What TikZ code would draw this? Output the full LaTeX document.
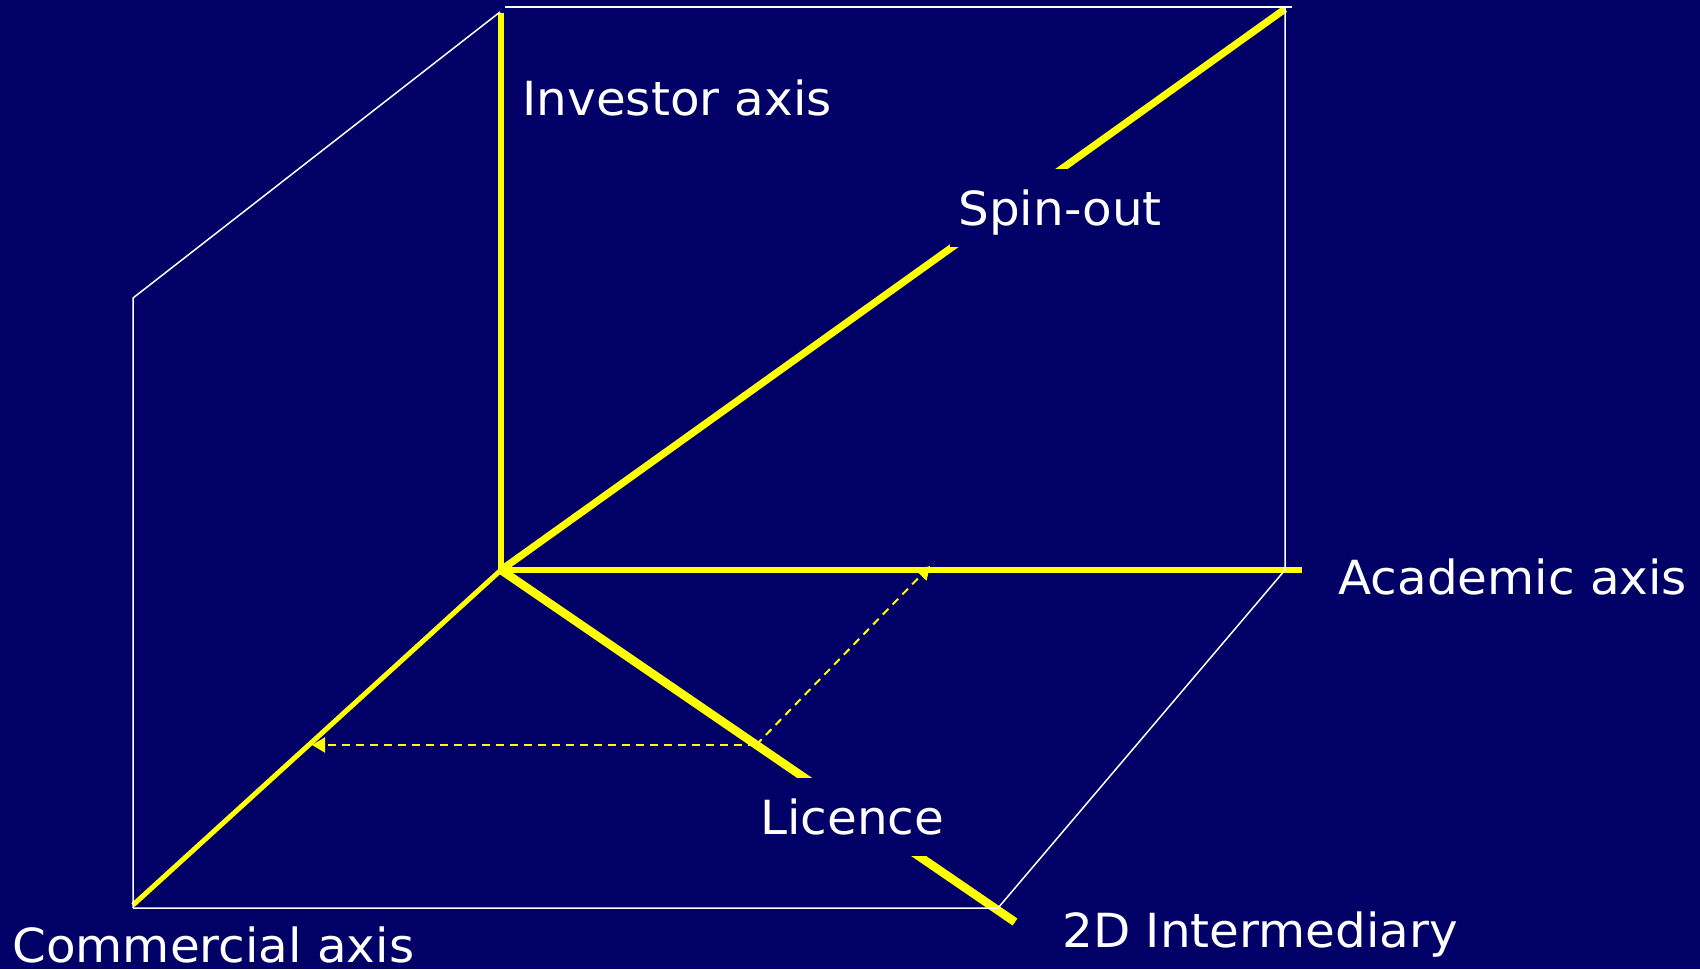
\documentclass[tikz,border=0pt]{standalone}
\usepackage{fontspec}
\setmainfont[FakeStretch=1.03]{DejaVu Sans}
\usetikzlibrary{arrows.meta}
\definecolor{slidebg}{RGB}{0,0,102}
\definecolor{axisyellow}{RGB}{255,255,0}
\begin{document}
\begin{tikzpicture}[x=0.5pt,y=-0.5pt,
  frame/.style={draw=white,line width=0.75pt},
  axisline/.style={draw=axisyellow,line cap=butt},
  guide/.style={draw=axisyellow,line width=1pt,dash pattern=on 4pt off 3pt,
                -{Triangle[length=6.5pt,width=7.5pt]}},
  lbl/.style={text=white,font=\fontsize{23.5pt}{28pt}\selectfont,
              inner sep=0pt,anchor=base west},
  gaplbl/.style={lbl,fill=slidebg,inner xsep=4pt,inner ysep=0pt,
                 text height=28pt,text depth=11pt}]

% page and background
\fill[slidebg] (0,0) rectangle (1700,969);
\useasboundingbox (0,0) rectangle (1700,969);

% origin and axis ends
\coordinate (O) at (501,570);
\coordinate (inv) at (501,13);
\coordinate (acad) at (1302,570);
\coordinate (spin) at (1285,9);
\coordinate (comm) at (133,905);
\coordinate (inter) at (1015,922);

% box corners
\coordinate (f1) at (133,298);
\coordinate (f2) at (500,12);
\coordinate (f3) at (505,7);
\coordinate (f4) at (1292,7);
\coordinate (f5) at (1285,7);
\coordinate (f6) at (1285,570);
\coordinate (f7) at (998,908);
\coordinate (f8) at (133,908);

% guide points
\coordinate (P) at (756,745);
\coordinate (Q) at (312,745);
\coordinate (R) at (930,566);

% yellow axes
\draw[axisline,line width=2.75pt] (O) -- (inv);
\draw[axisline,line width=3pt] (O) -- (acad);
\draw[axisline,line width=3.6pt] (O) -- (spin);
\draw[axisline,line width=2.5pt] (O) -- (comm);
\draw[axisline,line width=4.25pt] (O) -- (inter);

% projection guides
\draw[guide] (P) -- (Q);
\draw[guide] (P) -- (R);

% white frame
\draw[frame] (f8) -- (f1) -- (f2);
\draw[frame] (f3) -- (f4);
\draw[frame] (f5) -- (f6) -- (f7) -- (f8);

% labels
\node[lbl] (linv) at (522,115) {Investor axis};
\node[lbl] (lacad) at (1338,594) {Academic axis};
\node[lbl] (lcomm) at (12,962) {Commercial axis};
\node[lbl] (linter) at (1062,947) {2D Intermediary};
\node[gaplbl] (lspin) at (950,225) {Spin-out};
\node[gaplbl] (llic) at (752,834) {Licence};

\end{tikzpicture}
\end{document}
